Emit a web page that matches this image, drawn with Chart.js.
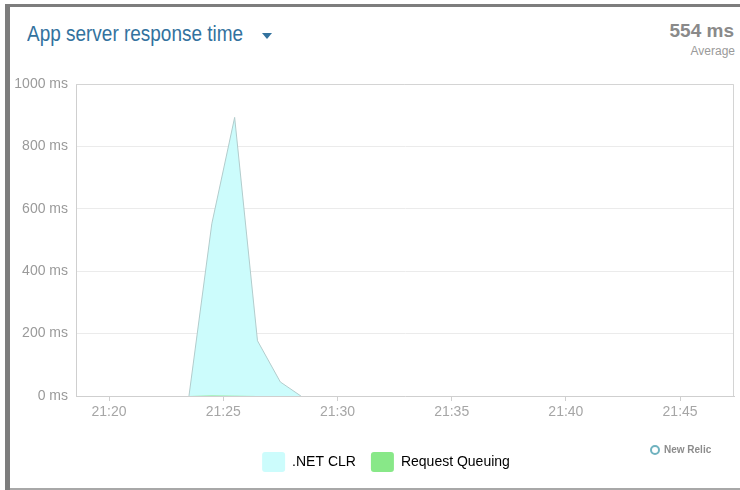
<!DOCTYPE html>
<html>
<head>
<meta charset="utf-8">
<script src="https://cdn.jsdelivr.net/npm/chart.js@4/dist/chart.umd.min.js"></script>
<style>
  html, body { margin: 0; padding: 0; width: 740px; height: 490px; overflow: hidden; background: #fff; font-family: "Liberation Sans", Arial, sans-serif; }
  #frameTop { position: absolute; left: 5px; top: 4px; width: 735px; height: 3px; background: #7d7d7d; }
  #frameLeft { position: absolute; left: 5px; top: 4px; width: 5px; height: 486px; background: #7d7d7d; }
  #frameBottom { position: absolute; left: 10px; top: 488px; width: 730px; height: 2px; background: #a8a8a8; }
  #title { position: absolute; left: 27px; top: 23px; font-family: "Liberation Sans", Arial, sans-serif; font-size: 22px; line-height: 22px; color: #33729e; white-space: nowrap; transform: scaleX(0.862); transform-origin: 0 0; }
  #caret { position: absolute; left: 262px; top: 33px; width: 0; height: 0; border-left: 5px solid transparent; border-right: 5px solid transparent; border-top: 6px solid #33729e; }
  #avgVal { position: absolute; right: 6px; top: 21px; font-size: 19px; line-height: 19px; font-weight: bold; color: #8a8a8a; white-space: nowrap; }
  #avgLbl { position: absolute; right: 5px; top: 45px; font-size: 12px; line-height: 12px; color: #9a9a9a; white-space: nowrap; }
  #chartBox { position: absolute; left: 10px; top: 60px; width: 752px; height: 425px; }
  #nrRing { position: absolute; left: 650px; top: 445px; width: 6px; height: 6px; border: 2.5px solid #6fb2bf; border-radius: 50%; }
  #nrText { position: absolute; left: 664px; top: 444px; font-size: 10px; line-height: 12px; font-weight: bold; color: #8c8c8c; white-space: nowrap; }
</style>
</head>
<body>
<div id="frameTop"></div>
<div id="frameLeft"></div>
<div id="frameBottom"></div>
<div id="title">App server response time</div>
<div id="caret"></div>
<div id="avgVal">554 ms</div>
<div id="avgLbl">Average</div>
<div id="chartBox"><canvas id="c"></canvas></div>
<div id="nrRing"></div>
<div id="nrText">New Relic</div>
<script>
// ---- data ----
const minutes = [23.5, 24.5, 25.5, 26.5, 27.5, 28.4];      // minutes past 21:00
const netClr = [0, 552, 893, 177, 45, 0];                   // ms
const requestQueuing = [0, 2, 1, 0, 0, 0];                  // ms
const xTickMinutes = [20, 25, 30, 35, 40, 45];
const yTickValues = [0, 200, 400, 600, 800, 1000];
const seriesNames = ['.NET CLR', 'Request Queuing'];
const seriesColors = ['#ccfcfc', '#88e888'];

const toPoints = vals => vals.map((v, i) => ({ x: minutes[i], y: v }));

const plotFrame = {
  id: 'plotFrame',
  beforeDatasetsDraw(chart) {
    const a = chart.chartArea, ctx = chart.ctx;
    ctx.save();
    ctx.strokeStyle = '#d4d4d4';
    ctx.lineWidth = 1;
    ctx.beginPath();
    ctx.moveTo(a.left, a.top + 0.5);
    ctx.lineTo(a.right - 0.5, a.top + 0.5);
    ctx.lineTo(a.right - 0.5, a.bottom);
    ctx.stroke();
    ctx.restore();
  }
};

new Chart(document.getElementById('c'), {
  type: 'line',
  data: {
    datasets: [
      {
        label: seriesNames[1],
        data: toPoints(requestQueuing),
        backgroundColor: seriesColors[1],
        borderColor: '#7acb7a',
        borderWidth: 0,
        fill: 'origin',
        pointRadius: 0,
        order: 0
      },
      {
        label: seriesNames[0],
        data: toPoints(netClr),
        backgroundColor: seriesColors[0],
        borderColor: '#b2cccc',
        borderWidth: 1,
        fill: 'origin',
        pointRadius: 0,
        tension: 0,
        order: 1
      }
    ]
  },
  options: {
    responsive: true,
    maintainAspectRatio: false,
    animation: false,
    events: [],
    layout: { padding: { top: 24, right: 0, bottom: 3, left: 0 } },
    plugins: {
      tooltip: { enabled: false },
      legend: {
        position: 'bottom',
        reverse: true,
        labels: {
          boxWidth: 23,
          boxHeight: 20,
          padding: 15,
          useBorderRadius: true,
          borderRadius: 3,
          color: '#444',
          font: { family: '"Liberation Sans", Arial, sans-serif', size: 14 },
          generateLabels(chart) {
            return chart.data.datasets.map((ds, i) => ({
              text: ds.label,
              fillStyle: seriesColors[seriesNames.indexOf(ds.label)],
              strokeStyle: 'rgba(0,0,0,0)',
              lineWidth: 0,
              hidden: false,
              datasetIndex: i,
              borderRadius: 3
            }));
          }
        }
      }
    },
    scales: {
      x: {
        type: 'linear',
        min: 18.555,
        max: 47.36,
        afterBuildTicks(s) { s.ticks = xTickMinutes.map(v => ({ value: v })); },
        afterFit(s) { s.height = 41; },
        grid: { drawOnChartArea: false, drawTicks: true, tickLength: 5, color: '#cfcfcf' },
        border: { display: true, color: '#cfcfcf' },
        ticks: {
          padding: 3,
          maxRotation: 0,
          color: '#a6a6a6',
          font: { family: '"Liberation Sans", Arial, sans-serif', size: 14 },
          callback: v => '21:' + String(v).padStart(2, '0')
        }
      },
      y: {
        min: 0,
        max: 1000,
        afterBuildTicks(s) { s.ticks = yTickValues.map(v => ({ value: v })); },
        afterFit(s) { s.width = 66; },
        grid: { drawTicks: false, color: '#ebebeb' },
        border: { display: true, color: '#cfcfcf' },
        ticks: {
          padding: 8,
          color: '#9a9a9a',
          font: { family: '"Liberation Sans", Arial, sans-serif', size: 14 },
          callback: v => v + ' ms'
        }
      },
      yRightSpacer: {
        position: 'right',
        min: 0,
        max: 1000,
        afterFit(s) { s.width = 28; },
        grid: { display: false, drawOnChartArea: false, drawTicks: false },
        border: { display: false },
        ticks: { display: false }
      }
    }
  },
  plugins: [plotFrame]
});
</script>
</body>
</html>
